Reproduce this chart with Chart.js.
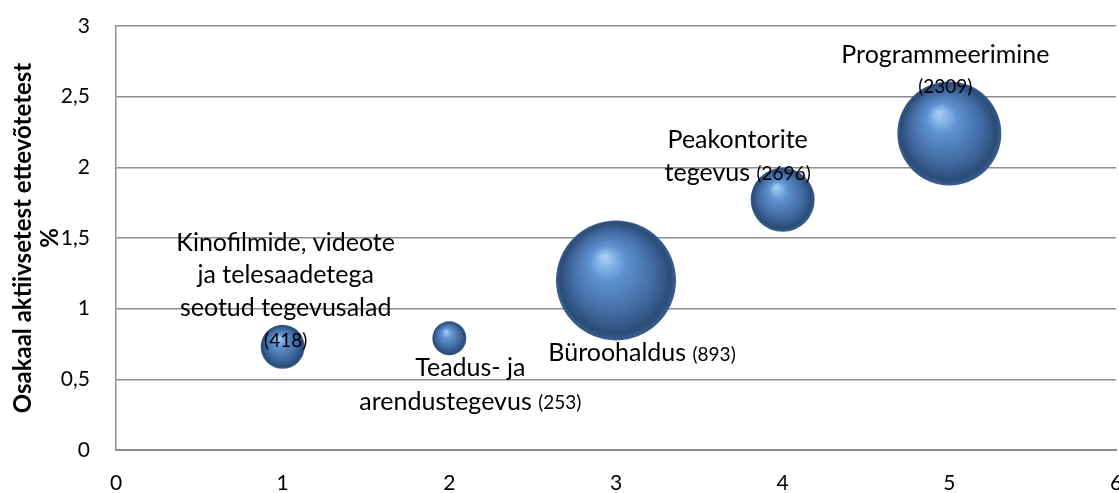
<!DOCTYPE html>
<html>
<head>
<meta charset="utf-8">
<script src="https://cdn.jsdelivr.net/npm/chart.js@4"></script>
<style>
  html, body { margin: 0; padding: 0; background: #fff; }
  #wrap { width: 1119px; height: 493px; }
</style>
</head>
<body>
<div id="wrap"><canvas id="chart" width="1119" height="493"></canvas></div>
<script>
// Andmed
const categories = [
  "Kinofilmide, videote ja telesaadetega seotud tegevusalad",
  "Teadus- ja arendustegevus",
  "Büroohaldus",
  "Peakontorite tegevus",
  "Programmeerimine",
];
const enterpriseCounts = [418, 253, 893, 2696, 2309];
const xPositions = [1, 2, 3, 4, 5];
const shareValues = [0.73, 0.79, 1.2, 1.77, 2.24];
const bubbleSizes = [22, 17, 60, 32, 52];
const xTickLabels = ["0", "1", "2", "3", "4", "5", "6"];
const yTickLabels = ["0", "0,5", "1", "1,5", "2", "2,5", "3"];
const yTitleLines = ["Osakaal aktiivsetest ettevõtetest", "%"];

// Kuidas nimed ridadeks murtakse (viimane rida saab arvu sulgudes)
const labelLines = [
  ["Kinofilmide, videote", "ja telesaadetega", "seotud tegevusalad", ""],
  ["Teadus- ja", "arendustegevus "],
  ["Büroohaldus "],
  ["Peakontorite", "tegevus "],
  ["Programmeerimine", ""],
];

const FONT = "Lato";

// Sildi asukoht mulli keskme suhtes: dx, esimese rea dy, reavahe
const labelPlacement = [
  { dx: 3, dy: -104, step: 32.5 },
  { dx: 21, dy: 30, step: 34 },
  { dx: 26, dy: 73, step: 32 },
  { dx: -45, dy: -60, step: 33 },
  { dx: -4, dy: -78, step: 30 },
];

// 3D-mulli gradient
function bubbleFill(context) {
  const chart = context.chart;
  const raw = context.raw;
  if (!raw || !chart.chartArea) return "#4f81bd";
  const x = chart.scales.x.getPixelForValue(raw.x);
  const y = chart.scales.y.getPixelForValue(raw.y);
  const r = raw.r;
  const g = chart.ctx.createRadialGradient(x - r * 0.2, y - r * 0.4, 0, x, y, r);
  g.addColorStop(0, "#a9d3fb");
  g.addColorStop(0.3, "#5d92d0");
  g.addColorStop(0.7, "#41699f");
  g.addColorStop(0.92, "#2b4c78");
  g.addColorStop(1, "#3a5f8f");
  return g;
}

const bubbleLabels = {
  id: "bubbleLabels",
  afterDatasetsDraw(chart) {
    const ctx = chart.ctx;
    const meta = chart.getDatasetMeta(0);
    ctx.save();
    ctx.fillStyle = "#000";
    ctx.textBaseline = "middle";
    ctx.textAlign = "left";
    meta.data.forEach((pt, i) => {
      const place = labelPlacement[i];
      const lines = labelLines[i];
      lines.forEach((text, li) => {
        const last = li === lines.length - 1;
        const count = last ? "(" + enterpriseCounts[i] + ")" : "";
        ctx.font = "25px " + FONT;
        const w1 = ctx.measureText(text).width;
        ctx.font = "19px " + FONT;
        const w2 = count ? ctx.measureText(count).width : 0;
        const cx = pt.x + place.dx;
        const cy = pt.y + place.dy + li * place.step;
        let x = cx - (w1 + w2) / 2;
        ctx.font = "25px " + FONT;
        ctx.fillText(text, x, cy);
        if (count) {
          ctx.font = "19px " + FONT;
          ctx.fillText(count, x + w1, cy + 1);
        }
      });
    });
    ctx.restore();
  },
};

const yTitle = {
  id: "yTitle",
  afterDraw(chart) {
    const ctx = chart.ctx;
    const area = chart.chartArea;
    const cy = (area.top + area.bottom) / 2;
    ctx.save();
    ctx.fillStyle = "#000";
    ctx.font = "bold 24px " + FONT;
    ctx.textAlign = "center";
    ctx.textBaseline = "middle";
    [23, 50].forEach((x, i) => {
      ctx.save();
      ctx.translate(x, cy);
      ctx.rotate(-Math.PI / 2);
      ctx.fillText(yTitleLines[i], 0, 0);
      ctx.restore();
    });
    ctx.restore();
  },
};

new Chart(document.getElementById("chart").getContext("2d"), {
  type: "bubble",
  data: {
    datasets: [
      {
        label: "Osakaal",
        data: xPositions.map((x, i) => ({ x: x, y: shareValues[i], r: bubbleSizes[i] })),
        backgroundColor: bubbleFill,
        borderWidth: 0,
        hoverBorderWidth: 0,
      },
    ],
  },
  options: {
    responsive: false,
    animation: false,
    events: [],
    layout: { autoPadding: false, padding: { top: 26, right: 3, left: 0, bottom: 0 } },
    plugins: {
      legend: { display: false },
      tooltip: { enabled: false },
    },
    scales: {
      x: {
        type: "linear",
        min: 0,
        max: 6,
        afterFit: (s) => {
          s.height = 43;
          s.paddingLeft = 0;
          s.paddingRight = 0;
        },
        grid: { display: false, drawTicks: false },
        border: { display: true, color: "#8a8a8a", width: 2 },
        ticks: {
          stepSize: 1,
          padding: 21,
          color: "#000",
          font: { size: 21, family: FONT },
          callback: (value, index) => xTickLabels[index],
        },
      },
      y: {
        min: 0,
        max: 3,
        afterFit: (s) => {
          s.width = 116;
          s.paddingTop = 0;
          s.paddingBottom = 0;
        },
        grid: { color: "#8e8e8e", lineWidth: 1.5, drawTicks: false },
        border: { display: true, color: "#8e8e8e", width: 1.5 },
        ticks: {
          stepSize: 0.5,
          padding: 26,
          color: "#000",
          font: { size: 21, family: FONT },
          callback: (value, index) => yTickLabels[index],
        },
      },
    },
  },
  plugins: [bubbleLabels, yTitle],
});
</script>
</body>
</html>
